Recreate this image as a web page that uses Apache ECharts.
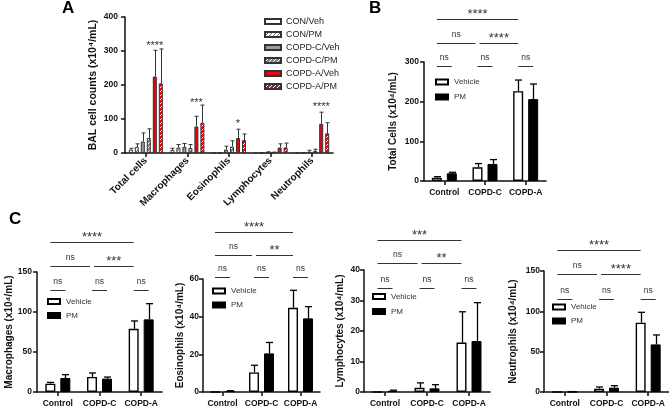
<!DOCTYPE html>
<html><head><meta charset="utf-8">
<script src="https://cdn.jsdelivr.net/npm/echarts@6/dist/echarts.min.js"></script>
<style>html,body{margin:0;padding:0;background:#fff}#c{width:669px;height:408px}</style>
</head><body><div id="c"></div>
<script>
// ---------- Panel A data ----------
const catsA = ['Total cells', 'Macrophages', 'Eosinophils', 'Lymphocytes', 'Neutrophils'];
const namesA = ['CON/Veh', 'CON/PM', 'COPD-C/Veh', 'COPD-C/PM', 'COPD-A/Veh', 'COPD-A/PM'];
const conVeh = [10, 9, 0, 0, 0];        const conVehErr = [4, 5, 0, 0, 0];
const conPM = [18, 16, 0.5, 0.5, 0.5];  const conPMErr = [9, 9, 0.5, 0.5, 0.5];
const copdCVeh = [34, 18, 10, 1.5, 4];  const copdCVehErr = [25, 10, 10, 2, 4];
const copdCPM = [44, 15, 19, 1.2, 6];   const copdCPMErr = [27, 10, 17, 1.5, 5];
const copdAVeh = [225, 78, 44, 16, 86]; const copdAVehErr = [77, 30, 26, 11, 34];
const copdAPM = [205, 89, 38, 16.5, 58]; const copdAPMErr = [101, 52, 18, 12.5, 31];
const sigA = ['****', '***', '*', '', '****'];
const sigAY = [325, 155, 93, 0, 143];

// ---------- Panels B / C data ----------
const groups = ['Control', 'COPD-C', 'COPD-A'];
const totVeh = [8.5, 34.5, 226.5];  const totVehErr = [2.5, 9.5, 28];
const totPM = [19.5, 43, 206.5];    const totPMErr = [2.5, 11, 38];
const macVeh = [10.4, 18.8, 79];    const macVehErr = [1.6, 5, 9.8];
const macPM = [17.5, 16.7, 90.8];   const macPMErr = [4.2, 2, 19.6];
const eosVeh = [0, 10.4, 44.7];     const eosVehErr = [0, 3.8, 9.3];
const eosPM = [0.5, 20.5, 39.1];    const eosPMErr = [0.2, 5.8, 6.2];
const lymVeh = [0, 1.4, 16.2];      const lymVehErr = [0, 1.6, 10.1];
const lymPM = [0.4, 1.2, 16.7];     const lymPMErr = [0.2, 1.2, 12.6];
const neuVeh = [0, 4.1, 86];        const neuVehErr = [0, 2.1, 12.8];
const neuPM = [0.3, 5.4, 59];       const neuPMErr = [0.2, 2.5, 11.7];

// significance brackets: [fromGroup, fromBar, toGroup, toBar]
const bracketSpans = [[0, 0, 2, 0], [0, 0, 1, 0], [1, 0, 2, 0], [0, 0, 0, 1], [1, 0, 1, 1], [2, 0, 2, 1]];
const lblB = ['****', 'ns', '****', 'ns', 'ns', 'ns']; const lvlB = [408, 349, 349, 289, 289, 289];
const lblC1 = ['****', 'ns', '***', 'ns', 'ns', 'ns']; const lvlC1 = [187.5, 157.5, 157.5, 128, 128, 128];
const lblC2 = ['****', 'ns', '**', 'ns', 'ns', 'ns'];  const lvlC2 = [84.7, 72.8, 72.8, 61, 61, 61];
const lblC3 = ['***', 'ns', '**', 'ns', 'ns', 'ns'];   const lvlC3 = [49.9, 42.2, 42.2, 34, 34, 34];
const lblC4 = ['****', 'ns', '****', 'ns', 'ns', 'ns']; const lvlC4 = [175.5, 145.8, 145.8, 115.7, 115.7, 115.7];

const FONT = 'Liberation Sans, Arial, sans-serif';
const bracketPads = [[0, 0], [0, -2], [2, 0], [0, 0], [0, 0], [0, 0]];

function hatch(base, line) {
  const c = document.createElement('canvas'); c.width = 4; c.height = 4;
  const ctx = c.getContext('2d');
  ctx.fillStyle = base; ctx.fillRect(0, 0, 4, 4);
  ctx.fillStyle = line;
  ctx.fillRect(0, 3, 1, 1); ctx.fillRect(1, 2, 1, 1); ctx.fillRect(2, 1, 1, 1); ctx.fillRect(3, 0, 1, 1);
  return { image: c, repeat: 'repeat' };
}

const chart = echarts.init(document.getElementById('c'), null, { renderer: 'canvas' });

const grids = [
  { left: 125, top: 17, width: 208, height: 136 },
  { left: 424, top: 62, width: 122, height: 119 },
  { left: 37, top: 272, width: 125, height: 120 },
  { left: 203, top: 279, width: 117, height: 114 },
  { left: 364, top: 270, width: 126, height: 122 },
  { left: 544, top: 271, width: 125, height: 121 }
];

const axisLineStyle = { lineStyle: { color: '#111', width: 1.5 } };
function xCat(gi, data, fs, rotate, margin) {
  return {
    type: 'category', gridIndex: gi, data: data, boundaryGap: true,
    axisLine: axisLineStyle,
    axisTick: { show: true, alignWithLabel: true, length: 4, lineStyle: { color: '#111', width: 1.5 } },
    axisLabel: { fontFamily: FONT, fontWeight: 'bold', fontSize: fs, color: '#111', rotate: rotate, margin: margin, interval: 0 },
    splitLine: { show: false }
  };
}
function yVal(gi, max, interval, name, nameGap, nameSize, margin) {
  return {
    type: 'value', gridIndex: gi, min: 0, max: max, interval: interval,
    name: name, nameLocation: 'middle', nameGap: nameGap,
    nameTextStyle: { fontFamily: FONT, fontWeight: 'bold', fontSize: nameSize, color: '#111' },
    axisLine: { show: true, lineStyle: { color: '#111', width: 1.5 } },
    axisTick: { show: true, length: 4, lineStyle: { color: '#111', width: 1.5 } },
    axisLabel: { fontFamily: FONT, fontWeight: 'bold', fontSize: 8.5, color: '#111', margin: margin },
    splitLine: { show: false }
  };
}

const xAxes = [
  xCat(0, catsA, 10, 45, 6),
  xCat(1, groups, 8.5, 0, 7),
  xCat(2, groups, 8.5, 0, 7),
  xCat(3, groups, 8.5, 0, 7),
  xCat(4, groups, 8.5, 0, 7),
  xCat(5, groups, 8.5, 0, 7)
];
const yAxes = [
  yVal(0, 400, 100, 'BAL cell counts (x10⁴/mL)', 26, 10.5, 7),
  yVal(1, 300, 100, 'Total Cells (x10⁴/mL)', 26, 10, 5),
  yVal(2, 150, 50, 'Macrophages (x10⁴/mL)', 20, 10, 5),
  yVal(3, 60, 20, 'Eosinophils (x10⁴/mL)', 18, 10, 4),
  yVal(4, 40, 10, 'Lymphocytes (x10⁴/mL)', 19, 10, 4),
  yVal(5, 150, 50, 'Neutrophils (x10⁴/mL)', 26, 10, 4)
];

const series = [];

// ---- Panel A bars ----
const meansA = [conVeh, conPM, copdCVeh, copdCPM, copdAVeh, copdAPM];
const errsA = [conVehErr, conPMErr, copdCVehErr, copdCPMErr, copdAVehErr, copdAPMErr];
const stylesA = [
  { color: '#ffffff', borderColor: '#333', borderWidth: 1 },
  { color: hatch('#ffffff', '#666666'), borderColor: '#333', borderWidth: 1 },
  { color: '#9b9b9b', borderColor: '#333', borderWidth: 1 },
  { color: hatch('#808080', '#ffffff'), borderColor: '#333', borderWidth: 1 },
  { color: '#e30613', borderColor: '#333', borderWidth: 1 },
  { color: hatch('#e30613', '#ffffff'), borderColor: '#333', borderWidth: 1 }
];
const barWA = 4, stepA = 6;
namesA.forEach((n, i) => {
  series.push({ type: 'bar', name: n, xAxisIndex: 0, yAxisIndex: 0, data: meansA[i],
    barWidth: barWA, barGap: '50%', itemStyle: stylesA[i], silent: true });
});

function errSeries(gi, means, errs, step, capW, color, lw) {
  const n = means.length;
  const data = [];
  means.forEach((arr, b) => arr.forEach((m, c) => data.push([c, b, m, errs[b][c]])));
  return {
    type: 'custom', xAxisIndex: gi, yAxisIndex: gi, clip: false, silent: true, z: 4,
    encode: { x: 0, y: 2 }, data: data,
    renderItem: function (params, api) {
      const c = api.value(0), b = api.value(1), m = api.value(2), e = api.value(3);
      if (!(e > 0)) return null;
      const p1 = api.coord([c, m]); const p2 = api.coord([c, m + e]);
      const x = Math.round(p1[0] + (b - (n - 1) / 2) * step) + 0.5;
      return { type: 'group', children: [
        { type: 'line', shape: { x1: x, y1: p1[1], x2: x, y2: p2[1] }, style: { stroke: color, lineWidth: lw } },
        { type: 'line', shape: { x1: x - capW / 2, y1: p2[1], x2: x + capW / 2, y2: p2[1] }, style: { stroke: color, lineWidth: lw } }
      ] };
    }
  };
}
series.push(errSeries(0, meansA, errsA, stepA, 4, '#333', 1));

// Panel A significance stars
series.push({
  type: 'custom', xAxisIndex: 0, yAxisIndex: 0, clip: false, silent: true, z: 5,
  encode: { x: 0, y: 1 }, data: sigAY.map((v, i) => [i, v]),
  renderItem: function (params, api) {
    const t = sigA[params.dataIndex];
    if (!t) return null;
    const p = api.coord([api.value(0), api.value(1)]);
    return { type: 'text', style: { text: t, x: p[0] + (4 - 2.5) * stepA, y: p[1] + 3, align: 'center', verticalAlign: 'middle',
      fontSize: 11, fontFamily: FONT, fill: '#333' } };
  }
});

// ---- Panels B / C ----
const panels = [
  { gi: 1, veh: totVeh, vehE: totVehErr, pm: totPM, pmE: totPMErr, lbl: lblB, lvl: lvlB },
  { gi: 2, veh: macVeh, vehE: macVehErr, pm: macPM, pmE: macPMErr, lbl: lblC1, lvl: lvlC1 },
  { gi: 3, veh: eosVeh, vehE: eosVehErr, pm: eosPM, pmE: eosPMErr, lbl: lblC2, lvl: lvlC2 },
  { gi: 4, veh: lymVeh, vehE: lymVehErr, pm: lymPM, pmE: lymPMErr, lbl: lblC3, lvl: lvlC3 },
  { gi: 5, veh: neuVeh, vehE: neuVehErr, pm: neuPM, pmE: neuPMErr, lbl: lblC4, lvl: lvlC4 }
];
const stepBC = 15;
panels.forEach(p => {
  series.push({ type: 'bar', name: 'Vehicle', xAxisIndex: p.gi, yAxisIndex: p.gi, data: p.veh,
    barWidth: 10, barGap: '50%', silent: true,
    itemStyle: { color: '#ffffff', borderColor: '#000', borderWidth: 1.4 } });
  series.push({ type: 'bar', name: 'PM', xAxisIndex: p.gi, yAxisIndex: p.gi, data: p.pm,
    barWidth: 10, barGap: '50%', silent: true,
    itemStyle: { color: '#000000', borderColor: '#000', borderWidth: 1 } });
  series.push(errSeries(p.gi, [p.veh, p.pm], [p.vehE, p.pmE], stepBC, 7, '#000', 1.3));
  series.push({
    type: 'custom', xAxisIndex: p.gi, yAxisIndex: p.gi, clip: false, silent: true, z: 5,
    encode: { x: 0, y: 4 },
    data: bracketSpans.map((s, i) => [s[0], s[1], s[2], s[3], p.lvl[i]]),
    renderItem: function (params, api) {
      const i = params.dataIndex;
      const lv = api.value(4);
      const a = api.coord([api.value(0), lv]); const b = api.coord([api.value(2), lv]);
      const x1 = a[0] + (api.value(1) - 0.5) * stepBC + bracketPads[i][0];
      const x2 = b[0] + (api.value(3) - 0.5) * stepBC + bracketPads[i][1];
      const y = Math.round(a[1]) + 0.5;
      const lab = p.lbl[i]; const star = lab.indexOf('*') >= 0;
      return { type: 'group', children: [
        { type: 'line', shape: { x1: x1, y1: y, x2: x2, y2: y }, style: { stroke: '#333', lineWidth: 1 } },
        { type: 'text', style: { text: lab, x: (x1 + x2) / 2, y: star ? y - 5 : y - 4, align: 'center',
          verticalAlign: star ? 'middle' : 'bottom', fontSize: star ? 13 : 8.5, fontFamily: FONT, fill: '#333' } }
      ] };
    }
  });
});

function smallLegend(left, top, gap) {
  return { show: true, data: ['Vehicle', 'PM'], orient: 'vertical', left: left, top: top, itemWidth: 12, itemHeight: 5,
    icon: 'rect', itemGap: gap, selectedMode: false, padding: 0,
    textStyle: { fontFamily: FONT, fontSize: 8, color: '#333', padding: [0, 0, 0, 1] } };
}

const option = {
  animation: false,
  grid: grids,
  xAxis: xAxes,
  yAxis: yAxes,
  legend: [
    { show: true, data: namesA, orient: 'vertical', left: 264, top: 17, itemWidth: 16, itemHeight: 5, itemGap: 4,
      icon: 'rect', selectedMode: false, padding: 0, textStyle: { fontFamily: FONT, fontSize: 9, color: '#222' } },
    smallLegend(435, 78, 7),
    smallLegend(47, 297.5, 6),
    smallLegend(212, 287, 6),
    smallLegend(372, 292.5, 7),
    smallLegend(552, 303, 6)
  ],
  graphic: [
    { type: 'text', left: 62, top: 0, style: { text: 'A', fontSize: 17, fontWeight: 'bold', fontFamily: FONT, fill: '#000' } },
    { type: 'text', left: 369, top: 0, style: { text: 'B', fontSize: 17, fontWeight: 'bold', fontFamily: FONT, fill: '#000' } },
    { type: 'text', left: 9, top: 211, style: { text: 'C', fontSize: 17, fontWeight: 'bold', fontFamily: FONT, fill: '#000' } }
  ],
  series: series
};
chart.setOption(option);
</script></body></html>
